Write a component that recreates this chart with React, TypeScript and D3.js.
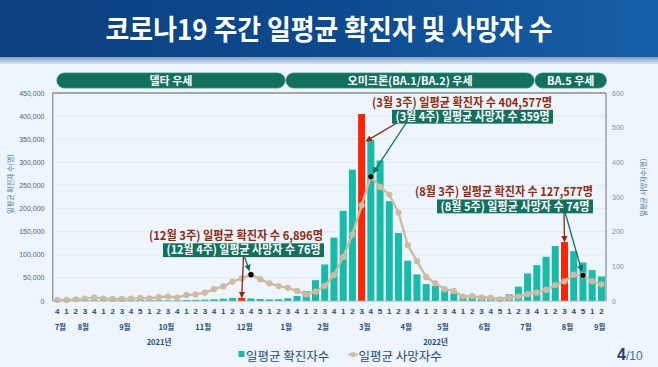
import React from 'react';
import * as d3 from 'd3';

const weekLabels = ["4","1","2","3","4","1","2","3","4","5","1","2","3","4","1","2","3","4","1","2","3","4","5","1","2","3","4","1","2","3","4","1","2","3","4","5","1","2","3","4","1","2","3","4","1","2","3","4","5","1","2","3","4","1","2","3","4","5","1","2"];
const monthLabels = ["7월","8월","9월","10월","11월","12월","1월","2월","3월","4월","5월","6월","7월","8월","9월"];
const monthWeekCounts = [1,4,5,4,4,5,4,4,5,4,4,5,4,5,2];
const yearLabels = ["2021년","2022년"];

const cases = [
  1550, 1500, 1800, 1900, 1800,
  1700, 1800, 1700, 2500, 2500,
  2100, 1600, 1300, 1500,
  2200, 2400, 3000, 3800,
  4900, 6400, 6896, 5500, 4300,
  3500, 3900, 5800, 11000,
  21500, 45000, 79000, 137000,
  195000, 284000, 404577, 348600, 304000,
  216000, 147000, 87000, 57500,
  36600, 33000, 23700, 17000,
  11000, 8500, 7500, 6800, 8000,
  14400, 30900, 59700, 77600,
  95600, 119000, 127577, 107800, 83400,
  66800, 53200
];
const deaths = [
  3, 3, 5, 7, 10,
  7, 6, 6, 7, 9,
  8, 11, 13, 10,
  17, 19, 24, 34,
  42, 56, 65, 76, 63,
  51, 43, 38, 29,
  19, 27, 44, 75,
  127, 192, 276, 359, 329,
  307, 255, 161, 115,
  69, 51, 34, 29,
  13, 14, 10, 10, 5,
  10, 13, 20, 24,
  32, 46, 57, 76, 74,
  57, 48
];
const leftTicks = [0, 50000, 100000, 150000, 200000, 250000, 300000, 350000, 400000, 450000];
const rightTicks = [0, 100, 200, 300, 400, 500, 600];
const highlightCaseWeeks = [20, 33, 55];
const highlightDeathWeeks = [21, 34, 57];
const variantLabels = ["델타 우세", "오미크론(BA.1/BA.2) 우세", "BA.5 우세"];
const variantStartWeeks = [0.45, 25.3, 52.3];
const variantEndWeeks = [25.2, 52.2, 60.05];
const caseNotes = ["(12월 3주) 일평균 확진자 수 6,896명", "(3월 3주) 일평균 확진자 수 404,577명", "(8월 3주) 일평균 확진자 수 127,577명"];
const deathNotes = ["(12월 4주) 일평균 사망자 수 76명", "(3월 4주) 일평균 사망자 수 359명", "(8월 5주) 일평균 사망자 수 74명"];

const W = 658, H = 367;
const plotL = 52.7, plotR = 606, plotT = 93, plotB = 301;
const FONT = "'Noto Sans CJK KR', 'Noto Sans', sans-serif";
const TEAL = "#17BBAA";
const RED = "#FF2400";
const DARKRED = "#8F2A0E";
const GREEN = "#12705E";
const TAN = "#CDBBA2";
const NAVY = "#1F4B7D";

export default function App() {
  const idx = d3.range(cases.length);
  const x = d3.scaleBand<number>().domain(idx).range([plotL, plotR]).paddingInner(0.24).paddingOuter(0.12);
  const cx = (i: number) => (x(i) as number) + x.bandwidth() / 2;
  const wx = d3.scaleLinear().domain([0, cases.length]).range([plotL, plotR]);
  const yL = d3.scaleLinear().domain([0, 450000]).range([plotB, plotT]);
  const yR = d3.scaleLinear().domain([0, 600]).range([plotB, plotT]);
  const line = d3.line<number>().x((d, i) => cx(i)).y(d => yR(d)).curve(d3.curveLinear);

  let acc = 0;
  const months = monthLabels.map((m, k) => {
    const s = acc; acc += monthWeekCounts[k];
    const mid = (cx(s) + cx(acc - 1)) / 2;
    return { m, mid };
  });

  const notes = [
    { redX: 236, redY: 239.5, redW: 174, boxX: 163, boxY: 243.3, boxW: 161, startX: 243.5, startY: 257, greenStartX: 244.5 },
    { redX: 462, redY: 106.8, redW: 180, boxX: 392, boxY: 109.8, boxW: 161, startX: 412, startY: 114, greenStartX: 412 },
    { redX: 504, redY: 196.3, redW: 178, boxX: 437, boxY: 199.5, boxW: 156, startX: 564, startY: 212, greenStartX: 565 },
  ];

  const shorten = (x1: number, y1: number, x2: number, y2: number, d: number) => {
    const dx = x2 - x1, dy = y2 - y1; const L = Math.hypot(dx, dy);
    return [x2 - dx / L * d, y2 - dy / L * d];
  };

  return (
    <svg width={W} height={H} viewBox={`0 0 ${W} ${H}`} style={{ position: 'absolute', left: 0, top: 0, fontFamily: FONT }}>
      <defs>
        <linearGradient id="banner" x1="0" x2="1" y1="0" y2="0">
          <stop offset="0" stopColor="#0C3F7E" />
          <stop offset="0.5" stopColor="#0D4A8E" />
          <stop offset="1" stopColor="#1760A9" />
        </linearGradient>
        <linearGradient id="strip" x1="0" x2="0" y1="0" y2="1">
          <stop offset="0" stopColor="#7F9EC2" />
          <stop offset="1" stopColor="#D6E3F0" />
        </linearGradient>
        <marker id="arrRed" viewBox="0 0 10 10" refX="8" refY="5" markerWidth="5" markerHeight="5" orient="auto">
          <path d="M0,0 L10,5 L0,10 Z" fill={DARKRED} />
        </marker>
        <marker id="arrGreen" viewBox="0 0 10 10" refX="8" refY="5" markerWidth="5" markerHeight="5" orient="auto">
          <path d="M0,0 L10,5 L0,10 Z" fill={GREEN} />
        </marker>
      </defs>
      <rect x={0} y={0} width={W} height={H} fill="#EEF5FC" />
      <rect x={0} y={0} width={W} height={57} fill="url(#banner)" />
      <rect x={0} y={57} width={W} height={7} fill="url(#strip)" />
      <text x={W / 2} y={40} textAnchor="middle" fill="#fff" fontSize={28} fontWeight={700}
        textLength={447} lengthAdjust="spacingAndGlyphs">코로나19 주간 일평균 확진자 및 사망자 수</text>

      {variantLabels.map((v, k) => {
        const x0 = wx(variantStartWeeks[k]), x1 = wx(variantEndWeeks[k]);
        return (
          <g key={v}>
            <rect x={x0} y={73} width={x1 - x0} height={15} rx={7.5} fill={GREEN} stroke="#2E8F7C" strokeWidth={0.8} />
            <text x={(x0 + x1) / 2} y={84.5} textAnchor="middle" fill="#fff" fontSize={11} fontWeight={700}>{v}</text>
          </g>
        );
      })}

      {leftTicks.map(t => (
        <line key={t} x1={plotL} x2={plotR} y1={yL(t)} y2={yL(t)} stroke="#DCE6F0" strokeWidth={0.7} />
      ))}

      {cases.map((v, i) => (
        <rect key={i} x={x(i)} y={yL(v)} width={x.bandwidth()} height={plotB - yL(v)}
          fill={highlightCaseWeeks.includes(i) ? RED : TEAL} />
      ))}

      <path d={line(deaths) || ''} fill="none" stroke={TAN} strokeWidth={2.4} />
      {deaths.map((v, i) => (
        <circle key={i} cx={cx(i)} cy={yR(v)} r={3.1} fill={TAN} />
      ))}
      {highlightDeathWeeks.map(i => (
        <circle key={'b' + i} cx={cx(i)} cy={yR(deaths[i])} r={2.6} fill="#000" />
      ))}

      <line x1={plotL} x2={plotL} y1={plotT} y2={plotB} stroke="#8A9199" strokeWidth={1.3} />
      <line x1={plotR} x2={plotR} y1={plotT} y2={plotB} stroke="#8A9199" strokeWidth={1.3} />
      <line x1={plotL} x2={plotR} y1={plotT} y2={plotT} stroke="#8A9199" strokeWidth={1.3} />
      <line x1={plotL} x2={plotR} y1={plotB} y2={plotB} stroke="#A6B0BA" strokeWidth={0.8} />

      {leftTicks.map(t => (
        <text key={t} x={44.5} y={yL(t) + 2.5} textAnchor="end" fontSize={7} fill="#4C6484" fontFamily="'Liberation Sans', Arial, sans-serif">{d3.format(",")(t)}</text>
      ))}
      {rightTicks.map(t => (
        <text key={t} x={612} y={yR(t) + 2.5} textAnchor="start" fontSize={7} fill="#7D93AE" fontFamily="'Liberation Sans', Arial, sans-serif">{t}</text>
      ))}
      <g transform="translate(12.5,184)">
        <text transform="rotate(-90)" textAnchor="middle" fontSize={7} fill="#3F6A9A">일평균 확진자 수(명)</text>
      </g>
      <g transform="translate(646,187.5)">
        <text transform="rotate(-90)" textAnchor="middle" fontSize={7} fill="#3F6A9A">일평균 사망자수(명)</text>
      </g>

      {weekLabels.map((w, i) => (
        <text key={i} x={cx(i)} y={314} textAnchor="middle" fontSize={8} fontWeight={700} fill={NAVY} fontFamily="'Liberation Sans', Arial, sans-serif">{w}</text>
      ))}
      {months.map((m, k) => (
        <text key={k} x={m.mid + 3} y={330} textAnchor="middle" fontSize={7.5} fontWeight={700} fill={NAVY}>{m.m}</text>
      ))}
      <text x={159} y={345} textAnchor="middle" fontSize={7.5} fontWeight={700} fill={NAVY}>{yearLabels[0]}</text>
      <text x={435.5} y={345} textAnchor="middle" fontSize={7.5} fontWeight={700} fill={NAVY}>{yearLabels[1]}</text>

      <rect x={238.5} y={351} width={6} height={6} fill={TEAL} />
      <text x={246} y={360.5} fontSize={12.5} fill={NAVY}>일평균 확진자수</text>
      <line x1={348} x2={358} y1={354.5} y2={354.5} stroke={TAN} strokeWidth={2} />
      <circle cx={353} cy={354.5} r={2.6} fill={TAN} />
      <text x={358.5} y={360.5} fontSize={12.5} fill={NAVY}>일평균 사망자수</text>
      <text x={617} y={360} fontSize={16} fontWeight={700} fill="#1E3F70" fontFamily="'Liberation Sans', Arial, sans-serif">4</text>
      <text x={626} y={360} fontSize={12} fill="#4A6A93" fontFamily="'Liberation Sans', Arial, sans-serif">/10</text>

      {notes.map((n, k) => {
        const ci = highlightCaseWeeks[k], di = highlightDeathWeeks[k];
        const redTx = k === 1 ? (x(ci) as number) + x.bandwidth() + 1.5 : cx(ci);
        const redTy = k === 1 ? yL(cases[ci + 1]) + 1 : yL(cases[ci]) - 1;
        const [gx, gy] = shorten(n.greenStartX, n.startY, cx(di), yR(deaths[di]), 5);
        return (
          <g key={k}>
            <line x1={n.startX} y1={n.startY} x2={redTx} y2={redTy} stroke={DARKRED} strokeWidth={1.3} markerEnd="url(#arrRed)" />
            <line x1={n.greenStartX} y1={n.startY} x2={gx} y2={gy} stroke={GREEN} strokeWidth={1.3} markerEnd="url(#arrGreen)" />
            <text x={n.redX} y={n.redY} textAnchor="middle" fontSize={12} fontWeight={700} fill={DARKRED}
              textLength={n.redW} lengthAdjust="spacingAndGlyphs">{caseNotes[k]}</text>
            <rect x={n.boxX} y={n.boxY} width={n.boxW} height={13.8} fill={GREEN} />
            <text x={n.boxX + n.boxW / 2} y={n.boxY + 11} textAnchor="middle" fontSize={12} fontWeight={700} fill="#fff"
              textLength={n.boxW - 7} lengthAdjust="spacingAndGlyphs">{deathNotes[k]}</text>
          </g>
        );
      })}
    </svg>
  );
}
